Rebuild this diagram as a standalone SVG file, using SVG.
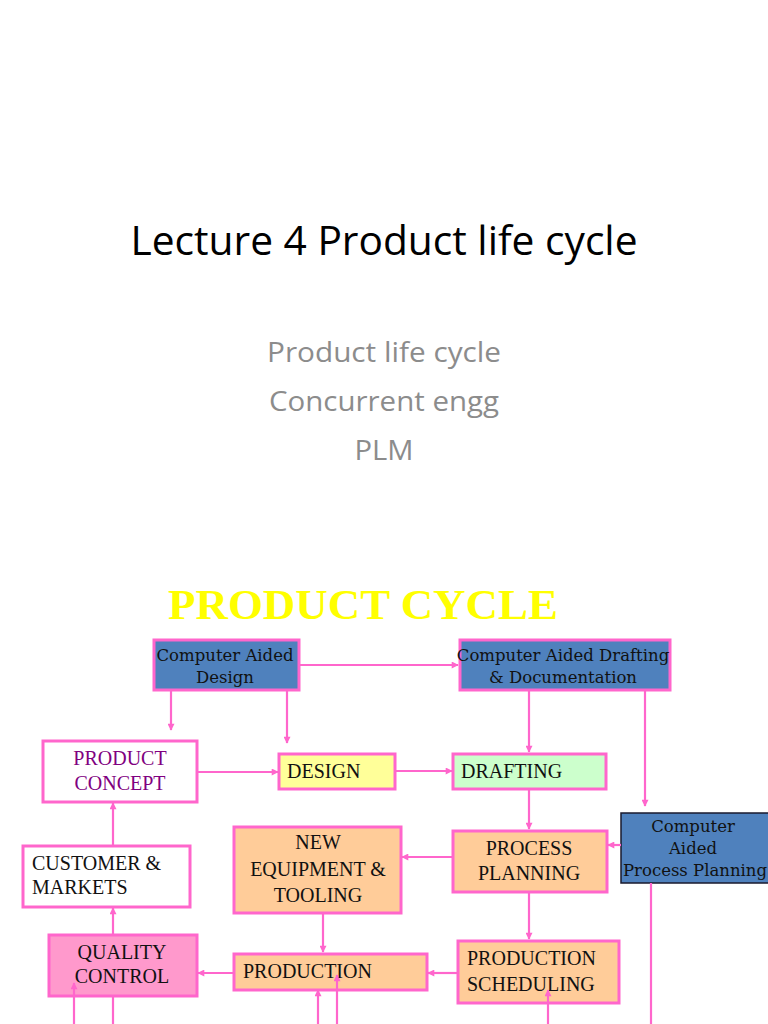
<svg xmlns="http://www.w3.org/2000/svg" width="768" height="1024" viewBox="0 0 768 1024">
<style>
.box{stroke:#ff66cc;stroke-width:3}
.blue{fill:#4f81bd}
.orange{fill:#ffcc99}
.t{font-family:"Liberation Serif","Times New Roman",serif;font-size:20px;fill:#111}
.c{font-family:"DejaVu Serif","Liberation Serif",serif;font-size:16.5px;fill:#111;text-anchor:middle}
.mid{text-anchor:middle}
.con path{fill:none;stroke:#ff66cc;stroke-width:2.2}
</style>
<defs>
<marker id="ah" viewBox="0 0 10 10" refX="9" refY="5" markerWidth="8" markerHeight="7" markerUnits="userSpaceOnUse" orient="auto">
<path d="M0,0 L10,5 L0,10 z" fill="#ff66cc"/>
</marker>
</defs>
<rect width="768" height="1024" fill="#ffffff"/>
<g id="title">
<text x="384" y="255" text-anchor="middle" font-family="'Open Sans','Noto Sans',sans-serif" font-size="40" fill="#000" textLength="507" lengthAdjust="spacingAndGlyphs">Lecture 4 Product life cycle</text>
</g>
<g id="subtitle" font-family="'Open Sans','Noto Sans',sans-serif" font-size="27" fill="#8c8c8c" text-anchor="middle">
<text x="384" y="362" textLength="234" lengthAdjust="spacingAndGlyphs">Product life cycle</text>
<text x="384" y="411" textLength="230" lengthAdjust="spacingAndGlyphs">Concurrent engg</text>
<text x="384" y="460" textLength="59" lengthAdjust="spacingAndGlyphs">PLM</text>
</g>
<g id="heading">
<text x="363" y="619" text-anchor="middle" font-family="'Liberation Serif','Times New Roman',serif" font-weight="bold" font-size="42" fill="#ffff00" textLength="390" lengthAdjust="spacingAndGlyphs">PRODUCT CYCLE</text>
</g>
<g id="cad">
<rect class="box blue" x="154" y="640" width="145" height="50"/>
<text class="c" x="225" y="661">Computer Aided</text>
<text class="c" x="225" y="683">Design</text>
</g>
<g id="cadd">
<rect class="box blue" x="460" y="640" width="210" height="50"/>
<text class="c" x="563" y="661">Computer Aided Drafting</text>
<text class="c" x="563" y="683">&amp; Documentation</text>
</g>
<g id="product-concept">
<rect class="box" fill="#ffffff" x="43" y="741" width="154" height="61"/>
<text class="t mid" x="120" y="765" style="fill:#800080">PRODUCT</text>
<text class="t mid" x="120" y="790" style="fill:#800080">CONCEPT</text>
</g>
<g id="design">
<rect class="box" fill="#ffff99" x="279" y="754" width="116" height="35"/>
<text class="t" x="287" y="778">DESIGN</text>
</g>
<g id="drafting">
<rect class="box" fill="#ccffcc" x="453" y="754" width="153" height="35"/>
<text class="t" x="461" y="778">DRAFTING</text>
</g>
<g id="capp">
<rect x="621" y="813" width="150" height="70" fill="#4f81bd" stroke="#1a1a2e" stroke-width="1.5"/>
<text class="c" x="693" y="832">Computer</text>
<text class="c" x="693" y="854">Aided</text>
<text class="c" x="695" y="876">Process Planning</text>
</g>
<g id="process-planning">
<rect class="box orange" x="453" y="831" width="154" height="61"/>
<text class="t mid" x="529" y="855">PROCESS</text>
<text class="t mid" x="529" y="880">PLANNING</text>
</g>
<g id="new-equipment">
<rect class="box orange" x="234" y="827" width="167" height="86"/>
<text class="t mid" x="318" y="849">NEW</text>
<text class="t mid" x="318" y="876">EQUIPMENT &amp;</text>
<text class="t mid" x="318" y="902">TOOLING</text>
</g>
<g id="customer-markets">
<rect class="box" fill="#ffffff" x="23" y="846" width="167" height="61"/>
<text class="t" x="32" y="870">CUSTOMER &amp;</text>
<text class="t" x="32" y="894">MARKETS</text>
</g>
<g id="quality-control">
<rect class="box" fill="#ff99cc" x="49" y="935" width="148" height="61"/>
<text class="t mid" x="122" y="959">QUALITY</text>
<text class="t mid" x="122" y="983">CONTROL</text>
</g>
<g id="production">
<rect class="box orange" x="234" y="954" width="193" height="36"/>
<text class="t" x="243" y="978">PRODUCTION</text>
</g>
<g id="production-scheduling">
<rect class="box orange" x="458" y="941" width="161" height="62"/>
<text class="t" x="467" y="965">PRODUCTION</text>
<text class="t" x="467" y="991">SCHEDULING</text>
</g>
<g id="connectors" class="con">
<path d="M300,665 H458" marker-end="url(#ah)"/>
<path d="M171,691 V730" marker-end="url(#ah)"/>
<path d="M287,691 V743" marker-end="url(#ah)"/>
<path d="M529,691 V752" marker-end="url(#ah)"/>
<path d="M645,691 V806" marker-end="url(#ah)"/>
<path d="M197,772 H278" marker-end="url(#ah)"/>
<path d="M395,771 H452" marker-end="url(#ah)"/>
<path d="M529,789 V829" marker-end="url(#ah)"/>
<path d="M621,845 H608" marker-end="url(#ah)"/>
<path d="M453,857 H402" marker-end="url(#ah)"/>
<path d="M113,846 V803" marker-end="url(#ah)"/>
<path d="M113,934 V908" marker-end="url(#ah)"/>
<path d="M323,913 V952" marker-end="url(#ah)"/>
<path d="M529,892 V939" marker-end="url(#ah)"/>
<path d="M458,973 H428" marker-end="url(#ah)"/>
<path d="M234,973 H198" marker-end="url(#ah)"/>
<path d="M74,1024 V983" marker-end="url(#ah)"/>
<path d="M113,996 V1024"/>
<path d="M318,1024 V990" marker-end="url(#ah)"/>
<path d="M337,1024 V975" marker-end="url(#ah)"/>
<path d="M548,1024 V990" marker-end="url(#ah)"/>
<path d="M651,883 V1024"/>
</g>
</svg>
